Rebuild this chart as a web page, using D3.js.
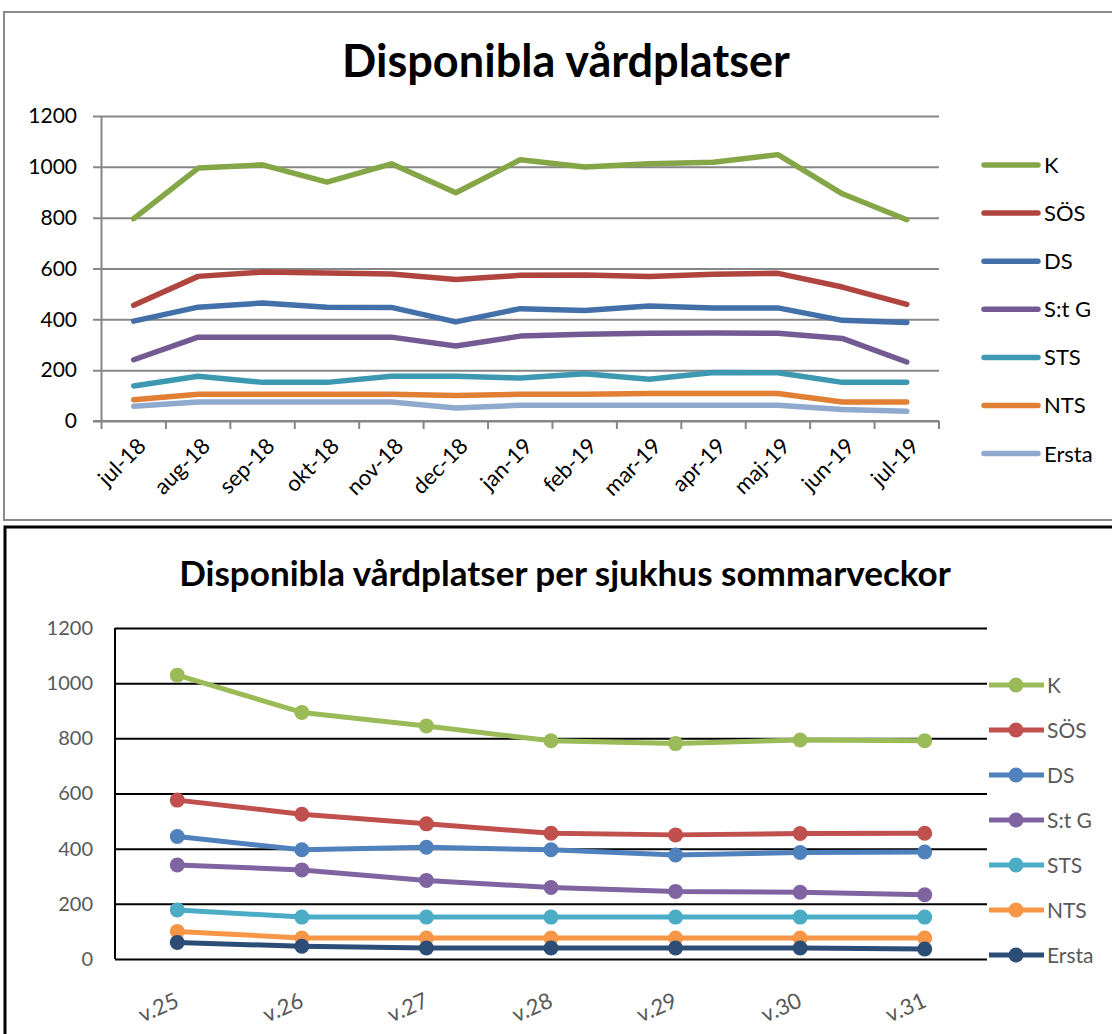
<!DOCTYPE html>
<html>
<head>
<meta charset="utf-8">
<script src="https://cdn.jsdelivr.net/npm/d3@7/dist/d3.min.js"></script>
<style>
  html, body { margin: 0; padding: 0; background: #fff; }
  svg { display: block; font-family: Lato, "Open Sans", "DejaVu Sans", sans-serif; }
</style>
</head>
<body>
<svg id="chart" width="1112" height="1034"></svg>
<script>
// ---------- DATA ----------
const hospitals = ["K", "SÖS", "DS", "S:t G", "STS", "NTS", "Ersta"];

const months = ["jul-18","aug-18","sep-18","okt-18","nov-18","dec-18","jan-19","feb-19","mar-19","apr-19","maj-19","jun-19","jul-19"];
const monthlyK     = [796, 995, 1008, 940, 1012, 898, 1028, 999, 1012, 1018, 1048, 894, 792];
const monthlySOS   = [455, 569, 586, 582, 578, 557, 573, 574, 569, 577, 581, 527, 459];
const monthlyDS    = [393, 448, 464, 448, 447, 390, 442, 435, 452, 445, 445, 396, 388];
const monthlyStG   = [241, 330, 330, 330, 330, 295, 334, 341, 345, 346, 345, 325, 232];
const monthlySTS   = [138, 176, 152, 152, 176, 176, 169, 186, 164, 191, 190, 152, 152];
const monthlyNTS   = [84, 105, 105, 105, 105, 100, 105, 105, 108, 108, 108, 75, 75];
const monthlyErsta = [58, 75, 75, 75, 75, 51, 62, 62, 62, 62, 62, 45, 38];

const weeks = ["v.25","v.26","v.27","v.28","v.29","v.30","v.31"];
const weeklyK     = [1029, 894, 845, 791, 781, 794, 791];
const weeklySOS   = [576, 525, 490, 456, 450, 455, 456];
const weeklyDS    = [444, 396, 405, 396, 377, 386, 388];
const weeklyStG   = [341, 323, 285, 259, 245, 242, 233];
const weeklySTS   = [178, 152, 152, 152, 152, 152, 152];
const weeklyNTS   = [100, 76, 76, 76, 76, 76, 76];
const weeklyErsta = [60, 46, 40, 40, 40, 40, 36];

const yTicks = [0, 200, 400, 600, 800, 1000, 1200];

const monthlySeries = [monthlyK, monthlySOS, monthlyDS, monthlyStG, monthlySTS, monthlyNTS, monthlyErsta];
const weeklySeries  = [weeklyK, weeklySOS, weeklyDS, weeklyStG, weeklySTS, weeklyNTS, weeklyErsta];

const topColors    = ["#84A646", "#B0443F", "#4470A9", "#735A93", "#3D99B1", "#E17F35", "#90A9CF"];
const bottomColors = ["#9BBB59", "#C0504D", "#4F81BD", "#8064A2", "#4BACC6", "#F79646", "#2C4D75"];

// ---------- HELPERS ----------
const svg = d3.select("#chart");
function fitText(sel, target) {
  const len = sel.node().getComputedTextLength();
  const fs = parseFloat(sel.attr("font-size"));
  sel.attr("font-size", fs * target / len);
}

// ---------- TOP CHART ----------
svg.append("rect").attr("x", 4).attr("y", 12).attr("width", 1120).attr("height", 508)
  .attr("fill", "#fff").attr("stroke", "#8a8a8a").attr("stroke-width", 2);

const t1 = svg.append("text").attr("x", 566).attr("y", 77).attr("text-anchor", "middle")
  .attr("font-weight", 700).attr("font-size", 40).attr("fill", "#000")
  .text("Disponibla vårdplatser");
fitText(t1, 448);

const xTop = d3.scaleBand().domain(months).range([101.5, 939]);
const yTop = d3.scaleLinear().domain([0, 1200]).range([421, 116]);

// gridlines + y labels
const gy = svg.append("g").attr("transform", "translate(93,0)")
  .call(d3.axisLeft(yTop).tickValues(yTicks).tickFormat(d3.format("d"))
    .tickSize(-(939 - 93)).tickPadding(16));
gy.select(".domain").remove();
gy.selectAll(".tick line").attr("stroke", "#868686").attr("stroke-width", 2);
gy.selectAll(".tick text").attr("font-size", 21).attr("fill", "#000")
  .attr("font-family", "Lato, sans-serif");

// y axis line
svg.append("line").attr("x1", 101.5).attr("x2", 101.5).attr("y1", 116).attr("y2", 421)
  .attr("stroke", "#868686").attr("stroke-width", 2);
// x axis line
svg.append("line").attr("x1", 93).attr("x2", 939).attr("y1", 421).attr("y2", 421)
  .attr("stroke", "#868686").attr("stroke-width", 2);
// x ticks at band boundaries
const bounds = months.map(m => xTop(m)).concat([xTop.range()[1]]);
svg.append("g").selectAll("line").data(bounds).join("line")
  .attr("x1", d => d).attr("x2", d => d).attr("y1", 421).attr("y2", 429)
  .attr("stroke", "#868686").attr("stroke-width", 2);

// x labels
const gxTop = svg.append("g").attr("transform", "translate(0,421)")
  .call(d3.axisBottom(xTop).tickSize(0).tickPadding(0));
gxTop.select(".domain").remove();
gxTop.selectAll(".tick text")
  .attr("font-size", 22).attr("fill", "#000").attr("font-family", "Lato, sans-serif")
  .attr("text-anchor", "end").attr("dy", "0.35em")
  .attr("transform", "translate(8,21) rotate(-45)");

// lines
const lineTop = d3.line().x((d, i) => xTop(months[i]) + xTop.bandwidth() / 2).y(d => yTop(d));
svg.append("g").selectAll("path").data(monthlySeries).join("path")
  .attr("d", d => lineTop(d)).attr("fill", "none")
  .attr("stroke", (d, i) => topColors[i]).attr("stroke-width", 5.5)
  .attr("stroke-linejoin", "round").attr("stroke-linecap", "round");

// legend
const legTop = svg.append("g").selectAll("g").data(hospitals).join("g")
  .attr("transform", (d, i) => `translate(0,${165 + i * 48.1})`);
legTop.append("line").attr("x1", 984).attr("x2", 1038).attr("y1", 0).attr("y2", 0)
  .attr("stroke", (d, i) => topColors[i]).attr("stroke-width", 5.5).attr("stroke-linecap", "round");
legTop.append("text").attr("x", 1044).attr("y", 0).attr("dy", "0.36em")
  .attr("font-size", 22).attr("fill", "#000").text(d => d);

// ---------- BOTTOM CHART ----------
svg.append("rect").attr("x", 5).attr("y", 527).attr("width", 1120).attr("height", 520)
  .attr("fill", "#fff").attr("stroke", "#000").attr("stroke-width", 3);

const t2 = svg.append("text").attr("x", 565).attr("y", 586).attr("text-anchor", "middle")
  .attr("font-weight", 700).attr("font-size", 32).attr("fill", "#000")
  .text("Disponibla vårdplatser per sjukhus sommarveckor");
fitText(t2, 772);

const xBot = d3.scaleBand().domain(weeks).range([115, 987]);
const yBot = d3.scaleLinear().domain([0, 1200]).range([959, 628]);

const gy2 = svg.append("g").attr("transform", "translate(115,0)")
  .call(d3.axisLeft(yBot).tickValues(yTicks).tickFormat(d3.format("d"))
    .tickSize(-(987 - 115)).tickPadding(22));
gy2.select(".domain").remove();
gy2.selectAll(".tick line").attr("stroke", "#000").attr("stroke-width", 2);
gy2.selectAll(".tick text").attr("font-size", 20).attr("fill", "#595959")
  .attr("font-family", "Lato, sans-serif");

svg.append("line").attr("x1", 115).attr("x2", 115).attr("y1", 628).attr("y2", 959)
  .attr("stroke", "#000").attr("stroke-width", 2);

const gxBot = svg.append("g").attr("transform", "translate(0,959)")
  .call(d3.axisBottom(xBot).tickSize(0).tickPadding(0));
gxBot.select(".domain").remove();
gxBot.selectAll(".tick text")
  .attr("font-size", 22).attr("fill", "#595959").attr("font-family", "Lato, sans-serif")
  .attr("text-anchor", "end").attr("dy", "0.35em")
  .attr("transform", "translate(0,40) rotate(-24)");

const lineBot = d3.line().x((d, i) => xBot(weeks[i]) + xBot.bandwidth() / 2).y(d => yBot(d));
const seriesBot = svg.append("g").selectAll("g").data(weeklySeries).join("g");
seriesBot.append("path").attr("d", d => lineBot(d)).attr("fill", "none")
  .attr("stroke", (d, i) => bottomColors[i]).attr("stroke-width", 5)
  .attr("stroke-linejoin", "round");
seriesBot.each(function(s, si) {
  d3.select(this).selectAll("circle").data(s).join("circle")
    .attr("cx", (d, i) => xBot(weeks[i]) + xBot.bandwidth() / 2)
    .attr("cy", d => yBot(d)).attr("r", 7.5).attr("fill", bottomColors[si]);
});

const legBot = svg.append("g").selectAll("g").data(hospitals).join("g")
  .attr("transform", (d, i) => `translate(0,${685 + i * 45})`);
legBot.append("line").attr("x1", 989).attr("x2", 1044).attr("y1", 0).attr("y2", 0)
  .attr("stroke", (d, i) => bottomColors[i]).attr("stroke-width", 5);
legBot.append("circle").attr("cx", 1016).attr("cy", 0).attr("r", 7.5)
  .attr("fill", (d, i) => bottomColors[i]);
legBot.append("text").attr("x", 1047).attr("y", 0).attr("dy", "0.36em")
  .attr("font-size", 21).attr("fill", "#595959").text(d => d);
</script>
</body>
</html>
